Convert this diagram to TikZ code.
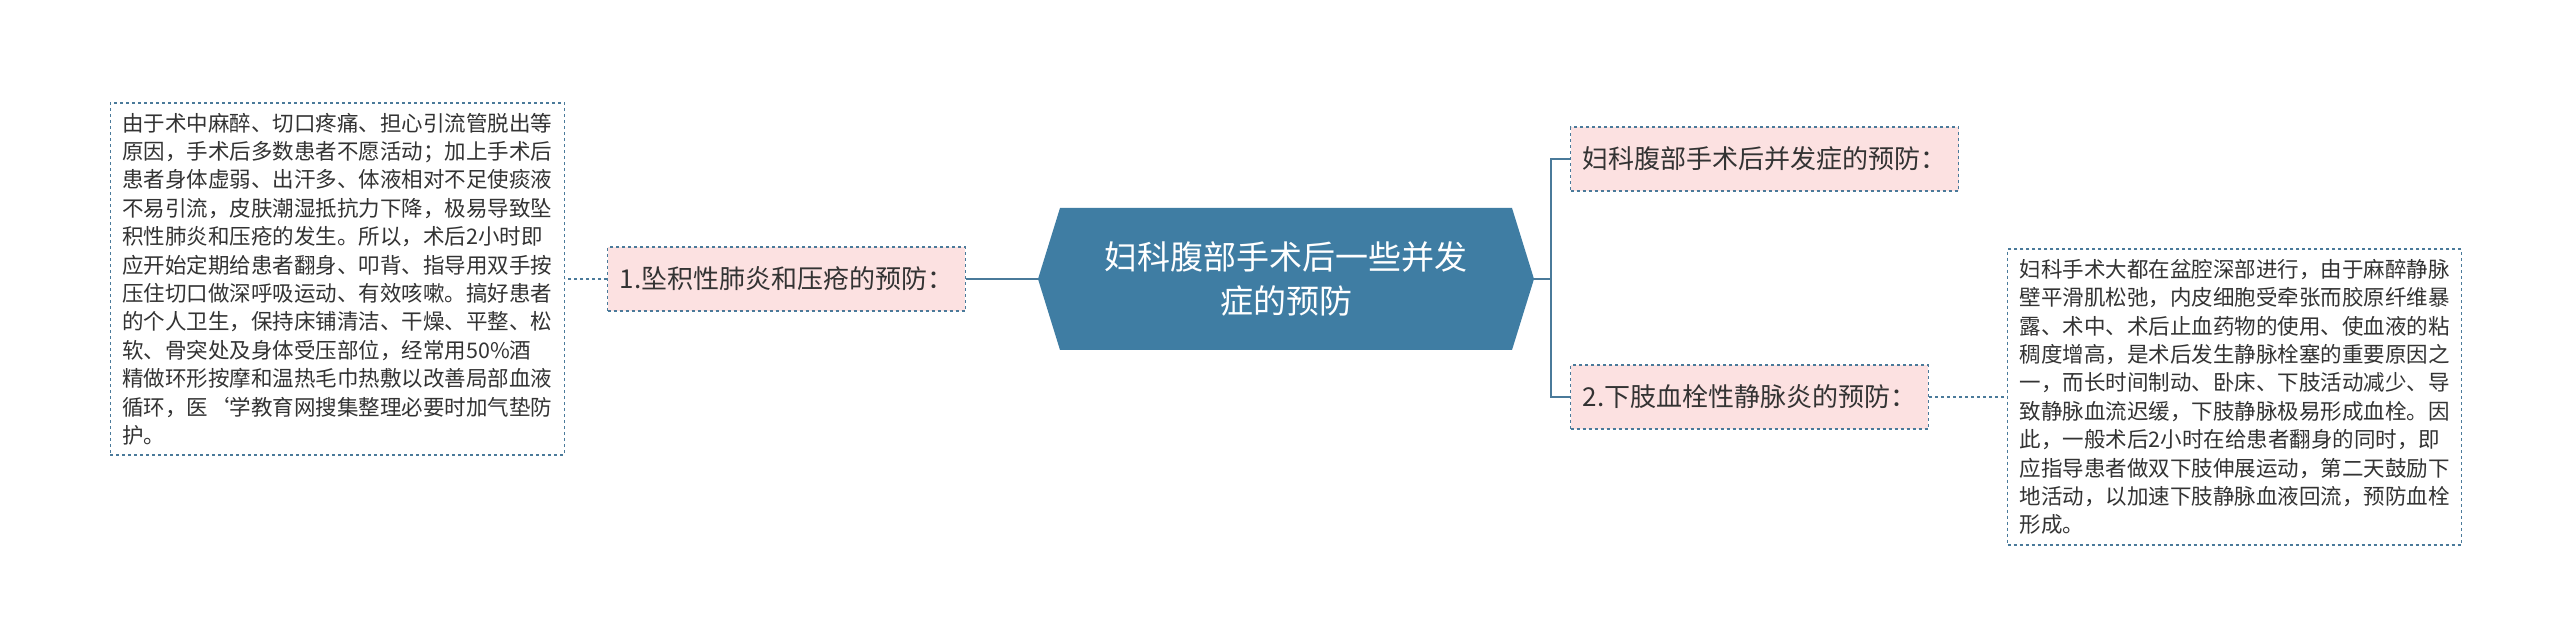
\documentclass[tikz,border=0pt]{standalone}
\usepackage{fontspec}
\setmainfont{Noto Sans CJK SC}
\begin{document}
\begin{tikzpicture}[x=1pt,y=-1pt,
  ln/.style={draw=lnc,line width=1.6pt},
  pinkbox/.style={draw=lnc,dashed,line width=1.4pt,fill=pinkc,inner xsep=12pt,minimum height=64pt,font=\fontsize{26}{32}\selectfont,text=txtc},
  textbox/.style={draw=lnc,dashed,line width=1.4pt,fill=white,inner xsep=12pt,inner ysep=10pt,align=left,font=\fontsize{21.5}{28.4}\selectfont,text=txtc}]
\definecolor{lnc}{HTML}{4A7A9A}
\definecolor{pinkc}{HTML}{FCE1E1}
\definecolor{hexc}{HTML}{3F7DA3}
\definecolor{txtc}{HTML}{333333}
\useasboundingbox (0,0) rectangle (2560,644);
\fill[white] (0,0) rectangle (2560,644);
% hexagon
\coordinate (hl) at (1038,279);
\coordinate (hr) at (1534,279);
\fill[hexc] (hl) -- (1060,208) -- (1512,208) -- (hr) -- (1512,350) -- (1060,350) -- cycle;
\node[text=white,align=center,font=\fontsize{33}{44}\selectfont] (center) at (1286,279) {妇科腹部手术后一些并发\\症的预防};
% branches
\node[pinkbox,anchor=west] (b1) at (607,279) {1.坠积性肺炎和压疮的预防：};
\node[pinkbox,anchor=west] (b0) at (1570,159) {妇科腹部手术后并发症的预防：};
\node[pinkbox,anchor=west] (b2) at (1570,397) {2.下肢血栓性静脉炎的预防：};
\node[textbox,anchor=east] (t1) at (565,279) {由于术中麻醉、切口疼痛、担心引流管脱出等\\原因，手术后多数患者不愿活动；加上手术后\\患者身体虚弱、出汗多、体液相对不足使痰液\\不易引流，皮肤潮湿抵抗力下降，极易导致坠\\积性肺炎和压疮的发生。所以，术后2小时即\\应开始定期给患者翻身、叩背、指导用双手按\\压住切口做深呼吸运动、有效咳嗽。搞好患者\\的个人卫生，保持床铺清洁、干燥、平整、松\\软、骨突处及身体受压部位，经常用50\%酒\\精做环形按摩和温热毛巾热敷以改善局部血液\\循环，医`学教育网搜集整理必要时加气垫防\\护。};
\node[textbox,anchor=west] (t2) at (2007,397) {妇科手术大都在盆腔深部进行，由于麻醉静脉\\壁平滑肌松弛，内皮细胞受牵张而胶原纤维暴\\露、术中、术后止血药物的使用、使血液的粘\\稠度增高，是术后发生静脉栓塞的重要原因之\\一，而长时间制动、卧床、下肢活动减少、导\\致静脉血流迟缓，下肢静脉极易形成血栓。因\\此，一般术后2小时在给患者翻身的同时，即\\应指导患者做双下肢伸展运动，第二天鼓励下\\地活动，以加速下肢静脉血液回流，预防血栓\\形成。};
% connectors
\draw[ln] (hl) -- (b1.east);
\draw[ln,dashed] (b1.west) -- (t1.east);
\coordinate (j) at (1551,279);
\draw[ln] (hr) -- (j);
\draw[ln] (b0.west) -| (j) |- (b2.west);
\draw[ln,dashed] (b2.east) -- (t2.west);
\end{tikzpicture}
\end{document}
